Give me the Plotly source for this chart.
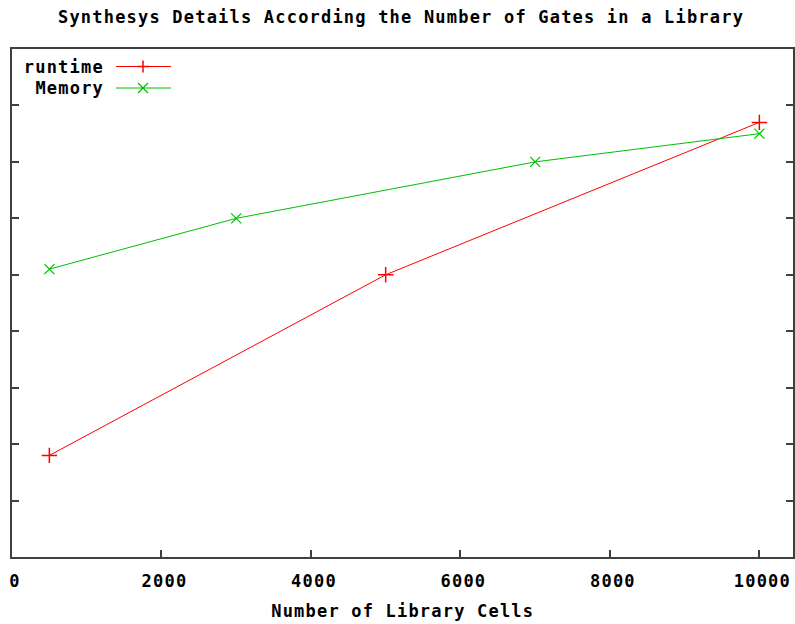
import plotly.graph_objects as go

title_text = "Synthesys Details According the Number of Gates in a Library"
x_title = "Number of Library Cells"

cells_runtime = [500, 5000, 10000]
runtime = [1.8, 5.0, 7.7]
cells_memory = [500, 3000, 7000, 10000]
memory = [5.1, 6.0, 7.0, 7.5]

x_ticks = [0, 2000, 4000, 6000, 8000, 10000]
y_ticks = [1, 2, 3, 4, 5, 6, 7, 8]

RED = "#ff0000"
GREEN = "#00c000"
AX = "#404040"
FONT = dict(family="DejaVu Sans Mono", size=17, color="black", weight="bold")

fig = go.Figure()
fig.add_trace(go.Scatter(x=cells_runtime, y=runtime, mode="lines+markers",
                         line=dict(color=RED, width=1),
                         marker=dict(symbol="cross-thin", size=11, line=dict(color=RED, width=1.5)),
                         name="runtime", showlegend=False, hoverinfo="skip"))
fig.add_trace(go.Scatter(x=cells_memory, y=memory, mode="lines+markers",
                         line=dict(color=GREEN, width=1),
                         marker=dict(symbol="x-thin", size=10, line=dict(color=GREEN, width=1.2)),
                         name="Memory", showlegend=False, hoverinfo="skip"))

W, H = 795, 624
# plot area in window pixels: x 12..793, y 49..557
PL, PR, PT, PB = 12, 793, 49, 557
L, R, T, B = PL, W - PR, PT, H - PB
pw, ph = PR - PL, PB - PT

def px(x):
    return (x - PL) / pw

def py(y):
    return (PB - y) / ph

shapes = []
annotations = []
legend_items = [("runtime", RED, "plus", 66.5), ("Memory", GREEN, "x", 88)]
for name, col, sym, yy in legend_items:
    annotations.append(dict(text=name, x=px(102), y=py(yy), xref="paper", yref="paper",
                            xanchor="right", yanchor="middle", showarrow=False, font=FONT))
    shapes.append(dict(type="line", xref="paper", yref="paper", x0=px(116), x1=px(171),
                       y0=py(yy), y1=py(yy), line=dict(color=col, width=1)))
    cx = 143
    if sym == "plus":
        shapes.append(dict(type="line", xref="paper", yref="paper", x0=px(cx - 6), x1=px(cx + 6),
                           y0=py(yy), y1=py(yy), line=dict(color=col, width=1.5)))
        shapes.append(dict(type="line", xref="paper", yref="paper", x0=px(cx), x1=px(cx),
                           y0=py(yy - 6), y1=py(yy + 6), line=dict(color=col, width=1.5)))
    else:
        shapes.append(dict(type="line", xref="paper", yref="paper", x0=px(cx - 5), x1=px(cx + 5),
                           y0=py(yy - 5), y1=py(yy + 5), line=dict(color=col, width=1.2)))
        shapes.append(dict(type="line", xref="paper", yref="paper", x0=px(cx - 5), x1=px(cx + 5),
                           y0=py(yy + 5), y1=py(yy - 5), line=dict(color=col, width=1.2)))

annotations.append(dict(text=x_title, x=px(402.5), y=py(611), xref="paper", yref="paper",
                        xanchor="center", yanchor="middle", showarrow=False, font=FONT))
annotations.append(dict(text=title_text, x=px(401), y=py(17), xref="paper", yref="paper",
                        xanchor="center", yanchor="middle", showarrow=False, font=FONT))

fig.update_layout(
    width=W, height=H,
    margin=dict(l=L, r=R, t=T, b=B, autoexpand=False),
    paper_bgcolor="white", plot_bgcolor="white",
    xaxis=dict(range=[0, 10450], tickvals=x_ticks, ticktext=[str(v) for v in x_ticks],
               ticks="inside", ticklen=7, tickwidth=2, tickcolor=AX,
               showline=True, linecolor=AX, linewidth=2, mirror=True,
               showgrid=False, zeroline=False, tickfont=FONT, ticklabelstandoff=8,
               ticklabelshift=3, automargin=False),
    yaxis=dict(range=[0, 9], tickvals=y_ticks, showticklabels=False,
               ticks="inside", ticklen=7, tickwidth=2, tickcolor=AX,
               showline=True, linecolor=AX, linewidth=2, mirror="ticks",
               showgrid=False, zeroline=False, automargin=False),
    shapes=shapes, annotations=annotations,
)

post = (
    "document.body.style.margin='0';"
    "document.body.style.overflow='hidden';"
    "document.querySelectorAll('svg text').forEach(function(t){t.style.letterSpacing='1.2px';});"
)
fig.write_html("out.html", config={"displayModeBar": False}, post_script=post)
